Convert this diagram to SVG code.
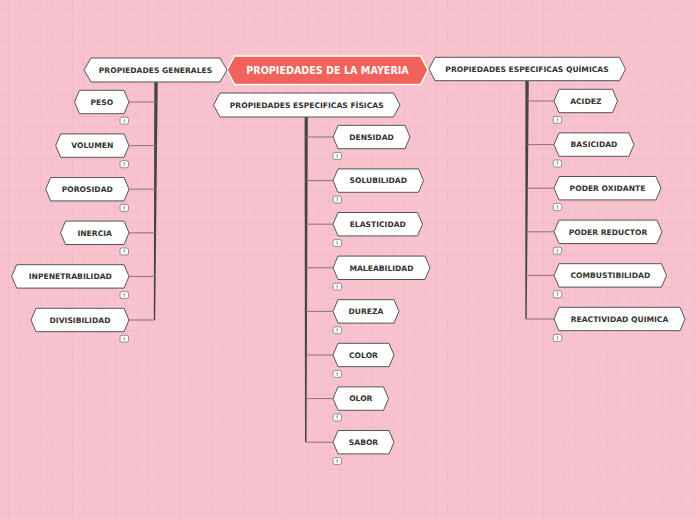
<svg xmlns="http://www.w3.org/2000/svg" width="696" height="520" viewBox="0 0 696 520">
<defs>
<pattern id="grid" x="8" y="9" width="10.7" height="10.7" patternUnits="userSpaceOnUse">
<path d="M0 0H10.7M0 0V10.7" fill="none" stroke="#eeb2c1" stroke-width="1"/>
</pattern>
<style>
.n{fill:#fff;stroke:#555;stroke-width:1}
.t{font-family:"DejaVu Sans",Verdana,sans-serif;font-weight:bold;font-size:7.6px;fill:#333;text-anchor:middle}
.mt{font-family:"DejaVu Sans",Verdana,sans-serif;font-weight:bold;font-size:9.6px;fill:#fff;text-anchor:middle}
.b{fill:#fff;stroke:#777;stroke-width:0.8}
.bt{font-family:"DejaVu Sans",sans-serif;font-weight:bold;font-size:5px;fill:#666;text-anchor:middle}
.br{stroke:#8b7177;stroke-width:1;fill:none}
.tr{fill:#444}
</style>
</defs>
<rect width="696" height="520" fill="#f8c3cf"/>
<rect width="696" height="520" fill="url(#grid)"/>

<g id="connectors">
<polygon class="tr" points="154.3,82 157.7,82 155.2,320 153.8,320"/>
<polygon class="tr" points="304.6,117 307.8,117 306.5,442.2 305,442.2"/>
<polygon class="tr" points="525.4,81 528.8,81 526.7,319 525.3,319"/>
<path class="br" d="M129 102H156M129 145.6H156M129 189.2H155.5M129 232.8H155.3M129 276.4H155M129 320H154.5"/>
<path class="br" d="M306 137H333M306 180.6H333M306 224.2H333M306 267.8H333M306 311.4H333M306 355H333M306 398.6H333M306 442.2H333"/>
<path class="br" d="M527 101H554M527 144.6H554M526.8 188.2H554M526.5 231.8H554M526.2 275.4H554M526 319H554"/>
</g>

<g id="main">
<polygon points="227,70 234.5,56 420.5,56 428,70 420.5,84.5 234.5,84.5" fill="#f0625a" stroke="#fff" stroke-width="1.5"/>
<text class="mt" x="327.5" y="73.5">PROPIEDADES DE LA MAYERIA</text>
</g>
<g id="generales">
<polygon class="n" points="84,70 91,58 220,58 227,70 220,82 91,82"/>
<text class="t" x="155.5" y="72.7">PROPIEDADES GENERALES</text>
</g>
<g id="fisicas">
<polygon class="n" points="213.5,105 220,93 393.5,93 400,105 393.5,117 220,117"/>
<text class="t" x="306.7" y="107.7">PROPIEDADES ESPECIFICAS FÍSICAS</text>
</g>
<g id="quimicas">
<polygon class="n" points="429,69 435,57.3 619.5,57.3 625.5,69 619.5,80.7 435,80.7"/>
<text class="t" x="527" y="71.7">PROPIEDADES ESPECIFICAS QUÍMICAS</text>
</g>

<g id="peso">
<polygon class="n" points="74.5,102 79.5,90.3 124,90.3 129,102 124,113.7 79.5,113.7"/>
<text class="t" x="101.8" y="104.7">PESO</text>
<rect class="b" x="120" y="117.2" width="8.5" height="7" rx="2"/><text class="bt" x="124.25" y="122.5">!</text>
</g>
<g id="volumen">
<polygon class="n" points="55.7,145.6 60.7,133.9 124,133.9 129,145.6 124,157.3 60.7,157.3"/>
<text class="t" x="92.3" y="148.3">VOLUMEN</text>
<rect class="b" x="120" y="160.8" width="8.5" height="7" rx="2"/><text class="bt" x="124.25" y="166.1">!</text>
</g>
<g id="porosidad">
<polygon class="n" points="45.7,189.2 50.7,177.5 124,177.5 129,189.2 124,200.9 50.7,200.9"/>
<text class="t" x="87.3" y="191.9">POROSIDAD</text>
<rect class="b" x="120" y="204.4" width="8.5" height="7" rx="2"/><text class="bt" x="124.25" y="209.7">!</text>
</g>
<g id="inercia">
<polygon class="n" points="60.5,232.8 65.5,221.1 124,221.1 129,232.8 124,244.5 65.5,244.5"/>
<text class="t" x="94.7" y="235.5">INERCIA</text>
<rect class="b" x="120" y="248" width="8.5" height="7" rx="2"/><text class="bt" x="124.25" y="253.3">!</text>
</g>
<g id="inpenetrabilidad">
<polygon class="n" points="11.7,276.4 16.7,264.7 124,264.7 129,276.4 124,288.1 16.7,288.1"/>
<text class="t" x="70.3" y="279.1">INPENETRABILIDAD</text>
<rect class="b" x="120" y="291.6" width="8.5" height="7" rx="2"/><text class="bt" x="124.25" y="296.9">!</text>
</g>
<g id="divisibilidad">
<polygon class="n" points="31,320 36,308.3 124,308.3 129,320 124,331.7 36,331.7"/>
<text class="t" x="80" y="322.7">DIVISIBILIDAD</text>
<rect class="b" x="120" y="335.2" width="8.5" height="7" rx="2"/><text class="bt" x="124.25" y="340.5">!</text>
</g>

<g id="densidad">
<polygon class="n" points="333,137 338,125.3 405,125.3 410,137 405,148.7 338,148.7"/>
<text class="t" x="371.5" y="139.7">DENSIDAD</text>
<rect class="b" x="333" y="152.4" width="8.5" height="7" rx="2"/><text class="bt" x="337.25" y="157.7">!</text>
</g>
<g id="solubilidad">
<polygon class="n" points="333,180.6 338,168.9 418.5,168.9 423.5,180.6 418.5,192.3 338,192.3"/>
<text class="t" x="378.3" y="183.3">SOLUBILIDAD</text>
<rect class="b" x="333" y="196" width="8.5" height="7" rx="2"/><text class="bt" x="337.25" y="201.3">!</text>
</g>
<g id="elasticidad">
<polygon class="n" points="333,224.2 338,212.5 417.5,212.5 422.5,224.2 417.5,235.9 338,235.9"/>
<text class="t" x="377.8" y="226.9">ELASTICIDAD</text>
<rect class="b" x="333" y="239.6" width="8.5" height="7" rx="2"/><text class="bt" x="337.25" y="244.9">!</text>
</g>
<g id="maleabilidad">
<polygon class="n" points="333,267.8 338,256.1 425,256.1 430,267.8 425,279.5 338,279.5"/>
<text class="t" x="381.5" y="270.5">MALEABILIDAD</text>
<rect class="b" x="333" y="283.2" width="8.5" height="7" rx="2"/><text class="bt" x="337.25" y="288.5">!</text>
</g>
<g id="dureza">
<polygon class="n" points="333,311.4 338,299.7 394,299.7 399,311.4 394,323.1 338,323.1"/>
<text class="t" x="366" y="314.1">DUREZA</text>
<rect class="b" x="333" y="326.8" width="8.5" height="7" rx="2"/><text class="bt" x="337.25" y="332.1">!</text>
</g>
<g id="color">
<polygon class="n" points="333,355 338,343.3 389,343.3 394,355 389,366.7 338,366.7"/>
<text class="t" x="363.5" y="357.7">COLOR</text>
<rect class="b" x="333" y="370.4" width="8.5" height="7" rx="2"/><text class="bt" x="337.25" y="375.7">!</text>
</g>
<g id="olor">
<polygon class="n" points="333,398.6 338,386.9 383.5,386.9 388.5,398.6 383.5,410.3 338,410.3"/>
<text class="t" x="360.8" y="401.3">OLOR</text>
<rect class="b" x="333" y="414" width="8.5" height="7" rx="2"/><text class="bt" x="337.25" y="419.3">!</text>
</g>
<g id="sabor">
<polygon class="n" points="333,442.2 338,430.5 389,430.5 394,442.2 389,453.9 338,453.9"/>
<text class="t" x="363.5" y="444.9">SABOR</text>
<rect class="b" x="333" y="457.6" width="8.5" height="7" rx="2"/><text class="bt" x="337.25" y="462.9">!</text>
</g>

<g id="acidez">
<polygon class="n" points="554,101 559,89.3 612.5,89.3 617.5,101 612.5,112.7 559,112.7"/>
<text class="t" x="585.8" y="103.7">ACIDEZ</text>
<rect class="b" x="553.2" y="116.4" width="8.5" height="7" rx="2"/><text class="bt" x="557.45" y="121.7">!</text>
</g>
<g id="basicidad">
<polygon class="n" points="554,144.6 559,132.9 629,132.9 634,144.6 629,156.3 559,156.3"/>
<text class="t" x="594" y="147.3">BASICIDAD</text>
<rect class="b" x="553.2" y="160" width="8.5" height="7" rx="2"/><text class="bt" x="557.45" y="165.3">!</text>
</g>
<g id="poder-oxidante">
<polygon class="n" points="554,188.2 559,176.5 656,176.5 661,188.2 656,199.9 559,199.9"/>
<text class="t" x="607.5" y="190.9">PODER OXIDANTE</text>
<rect class="b" x="553.2" y="203.6" width="8.5" height="7" rx="2"/><text class="bt" x="557.45" y="208.9">!</text>
</g>
<g id="poder-reductor">
<polygon class="n" points="554,231.8 559,220.1 657,220.1 662,231.8 657,243.5 559,243.5"/>
<text class="t" x="608" y="234.5">PODER REDUCTOR</text>
<rect class="b" x="553.2" y="247.2" width="8.5" height="7" rx="2"/><text class="bt" x="557.45" y="252.5">!</text>
</g>
<g id="combustibilidad">
<polygon class="n" points="554,275.4 559,263.7 661.5,263.7 666.5,275.4 661.5,287.1 559,287.1"/>
<text class="t" x="610.3" y="278.1">COMBUSTIBILIDAD</text>
<rect class="b" x="553.2" y="290.8" width="8.5" height="7" rx="2"/><text class="bt" x="557.45" y="296.1">!</text>
</g>
<g id="reactividad-quimica">
<polygon class="n" points="554,319 559,307.3 680,307.3 685,319 680,330.7 559,330.7"/>
<text class="t" x="619.5" y="321.7">REACTIVIDAD QUIMICA</text>
<rect class="b" x="553.2" y="334.4" width="8.5" height="7" rx="2"/><text class="bt" x="557.45" y="339.7">!</text>
</g>
</svg>
